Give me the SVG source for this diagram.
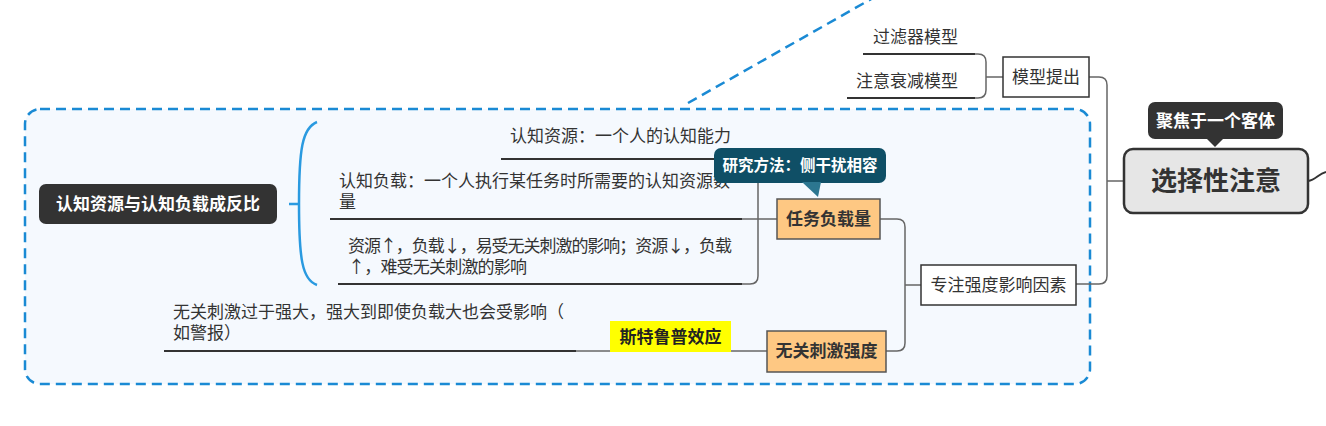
<svg xmlns="http://www.w3.org/2000/svg" width="1326" height="426" viewBox="0 0 1326 426">
<style>
text{font-family:"Noto Sans CJK SC","Noto Sans",sans-serif;font-size:17px;fill:#333}
.b{font-weight:bold}
.c{text-anchor:middle}
.w{fill:#fff}
.con{fill:none;stroke:#666;stroke-width:1.5}
.ul{fill:none;stroke:#333;stroke-width:2}
.box{fill:#fff;stroke:#333;stroke-width:1.5}
.org{fill:#fec883;stroke:#555;stroke-width:1.5}
</style>
<rect width="1326" height="426" fill="#fff"/>
<g id="boundary">
<rect x="25" y="109" width="1065" height="275" rx="15" fill="#f5f9fe" stroke="#1a8ad4" stroke-width="2.5" stroke-dasharray="10 6"/>
<path d="M688,103 L880,-6" fill="none" stroke="#1a8ad4" stroke-width="2.5" stroke-dasharray="10 6"/>
</g>
<g id="connectors">
<path class="con" d="M1124,181 L1107,181 M1089,77 L1099,77 Q1107,77 1107,85 L1107,276 Q1107,284 1099,284 L1076,284"/>
<path class="con" d="M1008,77 L986,77 M863,54 L978,54 Q986,54 986,62 L986,90 Q986,98 978,98 L847,98"/>
<path class="con" d="M921,285 L905,285 M880,219 L897,219 Q905,219 905,227 L905,343 Q905,351 897,351 L886,351"/>
<path class="con" d="M777,219 L330,219 M501,159 L750,159 Q758,159 758,167 L758,276 Q758,284 750,284 L338,284"/>
<path class="con" d="M767,351 L164,351"/>
<path class="ul" d="M330,219 L742,219 M501,159 L742,159 M338,284 L742,284 M164,351 L576,351 M863,54 L975,54 M847,98 L975,98"/>
<path d="M317,122 C302,128 299,150 299,204 C299,258 302,280 317,285 M289,204 L299,204" fill="none" stroke="#2a9ae0" stroke-width="2.5"/>
<path d="M1308,181 C1316,180 1318,174 1326,172" fill="none" stroke="#333" stroke-width="2"/>
</g>
<g id="central">
<rect x="1124" y="149" width="184" height="64" rx="9" fill="#e6e6e6" stroke="#333" stroke-width="2.5"/>
<text class="b c" x="1216" y="190" style="font-size:26px">选择性注意</text>
</g>
<g id="callout-focus">
<rect x="1148" y="102" width="135" height="37" rx="7" fill="#333"/>
<path d="M1206,138 L1224,138 L1215,147 Z" fill="#333"/>
<text class="b c w" x="1215.5" y="126.5">聚焦于一个客体</text>
</g>
<g id="model">
<rect class="box" x="1003" y="57" width="86" height="40"/>
<text class="c" x="1046" y="83">模型提出</text>
</g>
<g id="filter"><text x="873" y="43">过滤器模型</text></g>
<g id="atten"><text x="856" y="87">注意衰减模型</text></g>
<g id="factors">
<rect class="box" x="921" y="265" width="155" height="40"/>
<text class="c" x="998.5" y="291">专注强度影响因素</text>
</g>
<g id="taskload">
<rect class="org" x="777" y="199" width="103" height="40"/>
<text class="b c" x="828.5" y="225">任务负载量</text>
</g>
<g id="irrelevant">
<rect class="org" x="767" y="331" width="119" height="41"/>
<text class="b c" x="826.5" y="357">无关刺激强度</text>
</g>
<g id="resource"><text x="510" y="142">认知资源：一个人的认知能力</text></g>
<g id="load"><text x="339" y="187">认知负载：一个人执行某任务时所需要的认知资源数<tspan x="339" y="208">量</tspan></text></g>
<g id="relation"><text x="348" y="252"><tspan textLength="384" lengthAdjust="spacing">资源↑，负载↓，易受无关刺激的影响；资源↓，负载</tspan><tspan x="348" y="273" textLength="179" lengthAdjust="spacing">↑，难受无关刺激的影响</tspan></text></g>
<g id="strong"><text x="173" y="318">无关刺激过于强大，强大到即使负载大也会受影响（<tspan x="173" y="339">如警报）</tspan></text></g>
<g id="stroop">
<rect x="610" y="321" width="121" height="31" fill="#ffff00"/>
<text class="b c" x="670.5" y="343" style="fill:#222">斯特鲁普效应</text>
</g>
<g id="callout-method">
<rect x="714" y="148" width="172" height="35" rx="7" fill="#0f4f66"/>
<path d="M802,182 L821,182 L818,197 Z" fill="#2c7690"/>
<text class="b c w" x="800" y="171" style="font-size:15.5px">研究方法：侧干扰相容</text>
</g>
<g id="summary">
<rect x="39" y="184" width="238" height="40" rx="7" fill="#333"/>
<text class="b c w" x="158" y="210">认知资源与认知负载成反比</text>
</g>
</svg>
